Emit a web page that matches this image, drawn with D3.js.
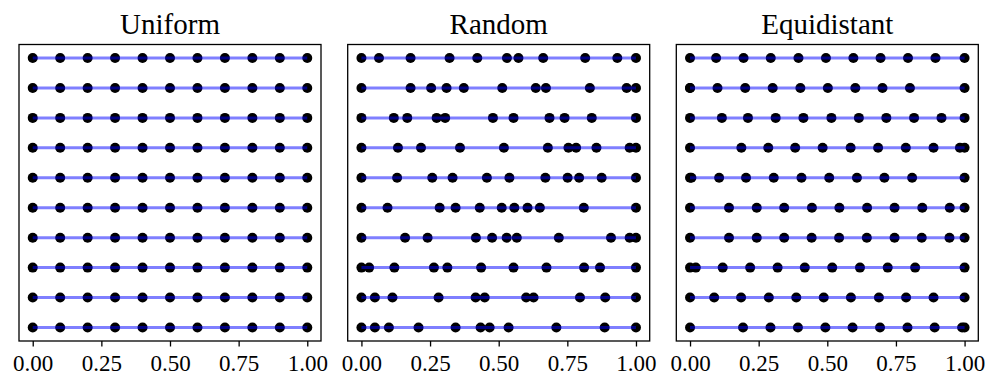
<!DOCTYPE html>
<html>
<head>
<meta charset="utf-8">
<script src="https://cdn.jsdelivr.net/npm/d3@7"></script>
<style>
  html, body { margin: 0; padding: 0; background: #fff; }
  svg { display: block; }
</style>
</head>
<body>
<svg id="chart" width="997" height="388"></svg>
<script>
// ---- Data ----
const titles = ["Uniform", "Random", "Equidistant"];
const tickValues = [0, 0.25, 0.5, 0.75, 1.0];
const tickLabels = ["0.00", "0.25", "0.50", "0.75", "1.00"];

const uniformRows = [
  [0, 0.1, 0.2, 0.3, 0.4, 0.5, 0.6, 0.7, 0.8, 0.9, 1.0],
  [0, 0.1, 0.2, 0.3, 0.4, 0.5, 0.6, 0.7, 0.8, 0.9, 1.0],
  [0, 0.1, 0.2, 0.3, 0.4, 0.5, 0.6, 0.7, 0.8, 0.9, 1.0],
  [0, 0.1, 0.2, 0.3, 0.4, 0.5, 0.6, 0.7, 0.8, 0.9, 1.0],
  [0, 0.1, 0.2, 0.3, 0.4, 0.5, 0.6, 0.7, 0.8, 0.9, 1.0],
  [0, 0.1, 0.2, 0.3, 0.4, 0.5, 0.6, 0.7, 0.8, 0.9, 1.0],
  [0, 0.1, 0.2, 0.3, 0.4, 0.5, 0.6, 0.7, 0.8, 0.9, 1.0],
  [0, 0.1, 0.2, 0.3, 0.4, 0.5, 0.6, 0.7, 0.8, 0.9, 1.0],
  [0, 0.1, 0.2, 0.3, 0.4, 0.5, 0.6, 0.7, 0.8, 0.9, 1.0],
  [0, 0.1, 0.2, 0.3, 0.4, 0.5, 0.6, 0.7, 0.8, 0.9, 1.0]
];

const randomRows = [
  [0, 0.064, 0.179, 0.321, 0.422, 0.530, 0.572, 0.662, 0.815, 0.932, 1.0],
  [0, 0.179, 0.254, 0.310, 0.373, 0.513, 0.635, 0.672, 0.832, 0.966, 1.0],
  [0, 0.118, 0.167, 0.274, 0.305, 0.479, 0.554, 0.685, 0.740, 0.839, 1.0],
  [0, 0.133, 0.217, 0.359, 0.519, 0.679, 0.754, 0.782, 0.856, 0.977, 1.0],
  [0, 0.130, 0.258, 0.332, 0.457, 0.539, 0.670, 0.751, 0.793, 0.875, 1.0],
  [0, 0.095, 0.285, 0.343, 0.431, 0.511, 0.557, 0.605, 0.650, 0.810, 1.0],
  [0, 0.159, 0.241, 0.417, 0.476, 0.529, 0.566, 0.719, 0.909, 0.977, 1.0],
  [0, 0.028, 0.120, 0.264, 0.313, 0.436, 0.554, 0.674, 0.811, 0.869, 1.0],
  [0, 0.049, 0.113, 0.281, 0.416, 0.449, 0.600, 0.627, 0.796, 0.888, 1.0],
  [0, 0.049, 0.100, 0.208, 0.343, 0.434, 0.467, 0.536, 0.710, 0.886, 1.0]
];

const equidistantRows = [
  [0, 0.095, 0.195, 0.294, 0.395, 0.495, 0.595, 0.694, 0.794, 0.894, 1.0],
  [0, 0, 0.100, 0.201, 0.301, 0.402, 0.502, 0.602, 0.701, 0.801, 1.0],
  [0, 0.116, 0.211, 0.312, 0.413, 0.515, 0.615, 0.715, 0.816, 0.916, 1.0],
  [0, 0.187, 0.285, 0.383, 0.483, 0.585, 0.685, 0.786, 0.887, 0.983, 1.0],
  [0, 0.005, 0.106, 0.204, 0.305, 0.406, 0.507, 0.608, 0.708, 0.809, 1.0],
  [0, 0.142, 0.243, 0.343, 0.444, 0.544, 0.645, 0.745, 0.846, 0.946, 1.0],
  [0, 0.142, 0.243, 0.343, 0.443, 0.543, 0.644, 0.745, 0.844, 0.945, 1.0],
  [0, 0.021, 0.119, 0.219, 0.319, 0.418, 0.518, 0.619, 0.720, 0.820, 1.0],
  [0, 0.088, 0.186, 0.287, 0.387, 0.487, 0.586, 0.688, 0.787, 0.887, 1.0],
  [0, 0.193, 0.293, 0.393, 0.493, 0.592, 0.692, 0.792, 0.891, 0.991, 1.0]
];

const panels = [uniformRows, randomRows, equidistantRows];

// ---- Layout ----
const panelLefts = [19, 347.7, 676.3];
const panelWidth = 302;
const panelTop = 44.5;
const panelHeight = 296.5;
const font = "'Liberation Serif', 'Times New Roman', serif";

const svg = d3.select("#chart");

panels.forEach((rows, pi) => {
  const x = d3.scaleLinear().domain([-0.05, 1.05]).range([0, panelWidth]);
  const n = rows.length;
  const y = d3.scaleLinear().domain([-0.45, n - 1 + 0.45]).range([0, panelHeight]);

  const g = svg.append("g").attr("transform", `translate(${panelLefts[pi]},${panelTop})`);

  // dots first (lines are drawn on top, semi-transparent)
  rows.forEach((row, ri) => {
    g.append("g").selectAll("circle").data(row).join("circle")
      .attr("cx", d => x(d))
      .attr("cy", y(ri))
      .attr("r", 5)
      .attr("fill", "#000");
  });
  rows.forEach((row, ri) => {
    g.append("line")
      .attr("x1", x(d3.min(row)))
      .attr("x2", x(d3.max(row)))
      .attr("y1", y(ri))
      .attr("y2", y(ri))
      .attr("stroke", "blue")
      .attr("stroke-opacity", 0.5)
      .attr("stroke-width", 3);
  });

  // frame
  g.append("rect")
    .attr("x", 0).attr("y", 0)
    .attr("width", panelWidth).attr("height", panelHeight)
    .attr("fill", "none")
    .attr("stroke", "#000")
    .attr("stroke-width", 1.3);

  // x axis
  const axis = d3.axisBottom(x)
    .tickValues(tickValues)
    .tickFormat((d, i) => tickLabels[i])
    .tickSize(5.5)
    .tickPadding(6);
  const ax = g.append("g").attr("transform", `translate(0,${panelHeight})`).call(axis);
  ax.select(".domain").remove();
  ax.selectAll(".tick line").attr("stroke", "#000").attr("stroke-width", 1.3);
  ax.selectAll(".tick text")
    .attr("fill", "#000")
    .attr("y", 30)
    .attr("dy", "0")
    .style("font-family", font)
    .style("font-size", "23px");

  // title
  g.append("text")
    .attr("x", panelWidth / 2)
    .attr("y", -11)
    .attr("text-anchor", "middle")
    .style("font-family", font)
    .style("font-size", "29px")
    .attr("fill", "#000")
    .text(titles[pi]);
});
</script>
</body>
</html>
